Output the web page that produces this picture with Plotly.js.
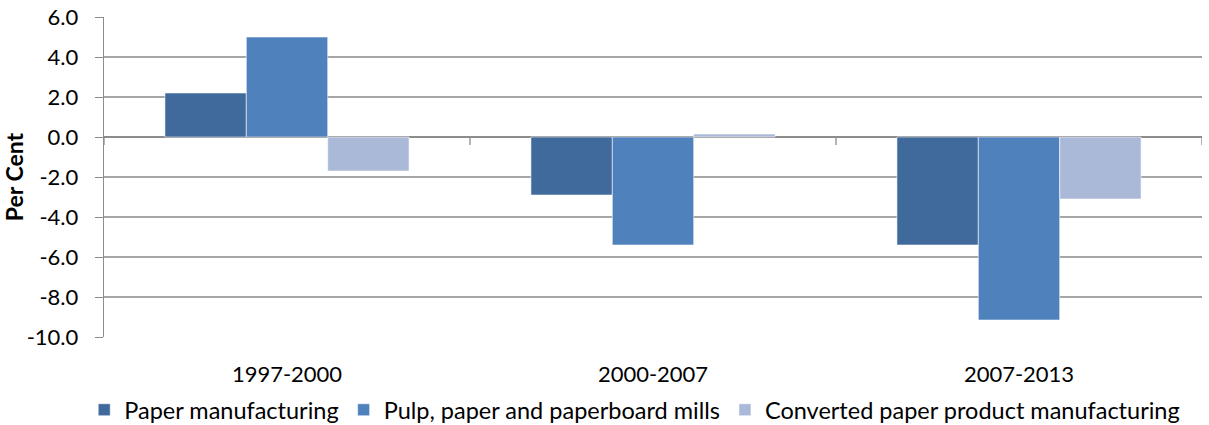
<!DOCTYPE html>
<html>
<head>
<meta charset="utf-8">
<script src="https://cdn.plot.ly/plotly-3.0.1.min.js"></script>
<style>html,body{margin:0;padding:0;background:#fff;}#chart{width:1209px;height:425px;}</style>
</head>
<body>
<div id="chart"></div>
<script>
const periods = ["1997-2000", "2000-2007", "2007-2013"];
const seriesNames = ["Paper manufacturing", "Pulp, paper and paperboard mills", "Converted paper product manufacturing"];
const paperManufacturing = [2.2, -2.9, -5.4];
const pulpPaperMills = [5.0, -5.4, -9.15];
const convertedProducts = [-1.7, 0.15, -3.1];
const seriesColors = ["#3F6A9B", "#4F81BD", "#AAB9D7"];
const yTickValues = [6, 4, 2, 0, -2, -4, -6, -8, -10];
const yTitle = "Per Cent";

const font = "Lato, 'Open Sans', sans-serif";
const values = [paperManufacturing, pulpPaperMills, convertedProducts];
const traces = values.map((v, i) => ({
  type: "bar",
  x: periods,
  y: v,
  name: seriesNames[i],
  marker: {color: seriesColors[i], line: {color: "rgba(255,255,255,0.55)", width: 1}},
  hoverinfo: "x+y+name"
}));

// tick marks on the zero line at category boundaries
const shapes = [];
for (let k = 0; k <= periods.length; k++) {
  shapes.push({type: "line", xref: "x", yref: "y", ysizemode: "pixel", yanchor: 0,
    x0: k - 0.5, x1: k - 0.5, y0: 0, y1: -8, line: {color: "#8C8C8C", width: 1.3}});
}

const layout = {
  width: 1209, height: 425,
  margin: {l: 104, r: 7, t: 17, b: 88, autoexpand: false},
  paper_bgcolor: "#fff", plot_bgcolor: "#fff",
  barmode: "group", bargap: 0.333, bargroupgap: 0,
  font: {family: font, size: 22, color: "#000"},
  showlegend: true,
  legend: {orientation: "h", x: 0.525, xanchor: "center", xref: "container", y: -0.228, yanchor: "middle",
    font: {family: font, size: 23.5, color: "#000"}, itemwidth: 30, traceorder: "normal"},
  xaxis: {type: "category", showline: false, showgrid: false, zeroline: false, ticks: "",
    ticklabelstandoff: 22, tickfont: {family: font, size: 22}, tickangle: 0, range: [-0.5, 2.5]},
  yaxis: {range: [-10, 6], tickmode: "array", tickvals: yTickValues, ticktext: yTickValues.map(v => v.toFixed(1)),
    showgrid: true, gridcolor: "#A6A6A6", gridwidth: 1.3,
    zeroline: true, zerolinecolor: "#8C8C8C", zerolinewidth: 1.3,
    showline: true, linecolor: "#8C8C8C", linewidth: 1.3, ticks: "outside", ticklen: 8, tickcolor: "#8C8C8C",
    ticklabelstandoff: 12, tickfont: {family: font, size: 22},
    title: {text: "<b>" + yTitle + "</b>", font: {family: font, size: 23}, standoff: 4}},
  shapes: shapes
};

Plotly.newPlot("chart", traces, layout, {displayModeBar: false, staticPlot: true});
</script>
</body>
</html>
